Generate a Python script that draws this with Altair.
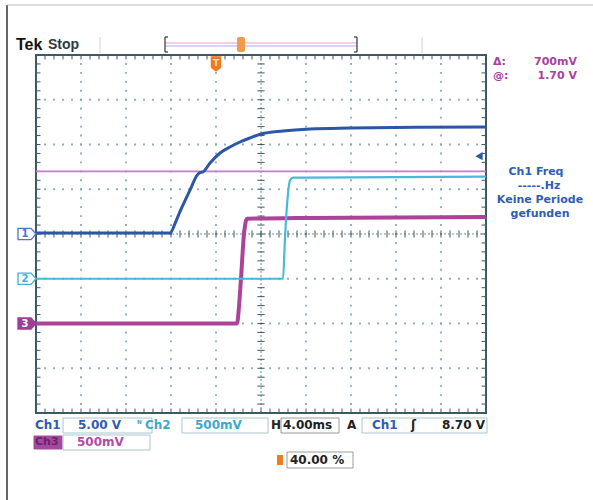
import altair as alt
import numpy as np
import pandas as pd

# ---------------- data (time in ms relative to trigger, volts) ----------------
ch1_t = [-16, -4.1, -3.6, -3.2, -2.31, -1.69, -1.42, -1.16, -0.53, 0.36, 1.24, 2.13, 3.02, 4.0, 5.96, 8.36, 11.9, 18, 24]
ch1_v = [0.1, 0.1, 1.3, 2.5, 4.9, 6.55, 6.85, 6.93, 7.93, 9.05, 9.72, 10.28, 10.73, 11.17, 11.51, 11.73, 11.84, 11.93, 11.96]
ch2_t = [-16, 5.96, 6.13, 6.4, 6.58, 6.84, 8, 24]
ch2_v = [0.0, 0.0, 0.45, 0.95, 1.10, 1.13, 1.13, 1.14]
ch3_t = [-16, 1.87, 2.05, 2.22, 2.49, 2.76, 8, 24]
ch3_v = [0.0, 0.0, 0.2, 0.5, 1.0, 1.17, 1.18, 1.19]

ch_scale = {"Ch1": 5.0, "Ch2": 0.5, "Ch3": 0.5}      # volts per division
ch_offset = {"Ch1": 0.0, "Ch2": -1.0, "Ch3": -2.0}   # ground position, divisions
cursor_v = [1.70]                                    # Ch3 cursor level (V)
trig_level = 8.70                                    # Ch1 trigger level (V)
t_per_div = 4.0
t_start = -16.0
n_xdiv, n_ydiv = 10, 8

W, H = 593, 500
L, R, T, B = 36, 486, 55, 413

xs = alt.Scale(domain=[t_start, t_start + n_xdiv * t_per_div], range=[L, R])
ys = alt.Scale(domain=[-n_ydiv / 2, n_ydiv / 2], range=[B, T])

def X(f="t"):
    return alt.X(f"{f}:Q", scale=xs, axis=None)

def Y(f="y"):
    return alt.Y(f"{f}:Q", scale=ys, axis=None)

FONT = "DejaVu Sans"
C1, C2, C3 = "#2b57a6", "#46bad8", "#ad4399"
GRID = "#86a9b7"
BORDER = "#3e5965"
BOX = "#aac4d0"
ORANGE = "#f07a1e"

layers = []

# ---------------- graticule ----------------
mx = [t_start + t_per_div * k for k in range(1, n_xdiv) if k != 5]
my = [k for k in range(-3, 4) if k != 0]
pts = []
for x in mx:
    for j in np.arange(-4, 4.001, 0.2):
        pts.append((x, j))
for y in my:
    for i in np.arange(t_start, t_start + 40.001, t_per_div / 5):
        pts.append((i, y))
gdf = pd.DataFrame(pts, columns=["t", "y"])
layers.append(alt.Chart(gdf).mark_square(size=3.5, color=GRID, opacity=0.95).encode(x=X(), y=Y()))

tc = t_start + 5 * t_per_div
# center lines
layers.append(alt.Chart(pd.DataFrame({"t": [tc]})).mark_rule(color="#6d8c98", strokeWidth=1, strokeDash=[2, 2])
              .encode(x=X(), y=alt.value(T), y2=alt.value(B)))
layers.append(alt.Chart(pd.DataFrame({"y": [0.0]})).mark_rule(color="#6d8c98", strokeWidth=1, strokeDash=[2, 2])
              .encode(y=Y(), x=alt.value(L), x2=alt.value(R)))

# minor ticks on center lines and border
minor_t = [t_start + i * t_per_div / 5 for i in range(1, 50)]
minor_y = [round(-4 + j * 0.2, 3) for j in range(1, 40)]
tk = []
for t in minor_t:
    tk.append((t, t, -0.08, 0.08))
    tk.append((t, t, 4.0, 3.9))
    tk.append((t, t, -4.0, -3.9))
for y in minor_y:
    tk.append((tc - 0.32, tc + 0.32, y, y))
    tk.append((t_start, t_start + 0.4, y, y))
    tk.append((t_start + 40 - 0.4, t_start + 40, y, y))
tkdf = pd.DataFrame(tk, columns=["t", "t2", "y", "y2"])
layers.append(alt.Chart(tkdf).mark_rule(color=BORDER, strokeWidth=1)
              .encode(x=X(), x2="t2:Q", y=Y(), y2="y2:Q"))

# border
layers.append(alt.Chart(pd.DataFrame({"a": [0]})).mark_rect(fill=None, stroke=BORDER, strokeWidth=2)
              .encode(x=alt.value(L), x2=alt.value(R), y=alt.value(T), y2=alt.value(B)))

# ---------------- cursors ----------------
cdf = pd.DataFrame({"v": cursor_v})
layers.append(alt.Chart(cdf).transform_calculate(y=f"datum.v/{ch_scale['Ch3']} + ({ch_offset['Ch3']})")
              .mark_rule(color="#c47ccc", strokeWidth=1.6)
              .encode(y=Y(), x=alt.value(L), x2=alt.value(R)))

# ---------------- traces ----------------
def trace(name, tt, vv, color, w):
    df = pd.DataFrame({"t": tt, "v": vv})
    return (alt.Chart(df)
            .transform_calculate(y=f"datum.v/{ch_scale[name]} + ({ch_offset[name]})")
            .mark_line(color=color, strokeWidth=w, interpolate="monotone")
            .encode(x=X(), y=Y()))

layers.append(trace("Ch3", ch3_t, ch3_v, C3, 4))
layers.append(trace("Ch2", ch2_t, ch2_v, C2, 2.2))
layers.append(trace("Ch1", ch1_t, ch1_v, C1, 3))

# ---------------- channel ground markers ----------------
mk_shape = "M-1,-0.62 L0.45,-0.62 L1,0 L0.45,0.62 L-1,0.62 Z"
def marker(name, color, filled):
    df = pd.DataFrame({"y": [ch_offset[name]], "s": [name[-1]]})
    p = alt.Chart(df).mark_point(shape=mk_shape, size=324, filled=True,
                                 fill=color if filled else "white", stroke=color, strokeWidth=1.3, opacity=1
                                 ).encode(x=alt.value(27), y=Y())
    tx = alt.Chart(df).mark_text(font=FONT, fontSize=10, fontWeight="bold",
                                 color="white" if filled else color, baseline="middle", align="center"
                                 ).encode(x=alt.value(25), y=Y(), text="s:N")
    return [p, tx]

layers += marker("Ch1", "#4d79c4", False)
layers += marker("Ch2", "#3fb3cf", False)
layers += marker("Ch3", "#a03d96", True)

# trigger level arrow
layers.append(alt.Chart(pd.DataFrame({"v": [trig_level]}))
              .transform_calculate(y=f"datum.v/{ch_scale['Ch1']}")
              .mark_point(shape="triangle-left", size=70, filled=True, color=C1, opacity=1)
              .encode(x=alt.value(479), y=Y()))

# trigger position marker
tshape = "M-1,-1.5 L1,-1.5 L1,0.7 L0,1.5 L-1,0.7 Z"
layers.append(alt.Chart(pd.DataFrame({"t": [0.0]}))
              .mark_point(shape=tshape, size=110, filled=True, color=ORANGE, opacity=1)
              .encode(x=X(), y=alt.value(64)))
layers.append(alt.Chart(pd.DataFrame({"t": [0.0], "s": ["T"]}))
              .mark_text(font=FONT, fontSize=9, fontWeight="bold", color="#fde0c0", baseline="middle")
              .encode(x=X(), y=alt.value(63), text="s:N"))

# ---------------- decorations / text ----------------
def rect(x1, x2, y1, y2, fill=None, stroke=BOX, sw=1):
    kw = dict(stroke=stroke, strokeWidth=sw)
    if fill is None:
        kw["fillOpacity"] = 0
        kw["fill"] = "white"
    else:
        kw["fill"] = fill
    return alt.Chart(pd.DataFrame({"a": [0]})).mark_rect(**kw).encode(
        x=alt.value(x1), x2=alt.value(x2), y=alt.value(y1), y2=alt.value(y2))

def line(x1, x2, y1, y2, color, sw=1):
    return alt.Chart(pd.DataFrame({"a": [0]})).mark_rule(color=color, strokeWidth=sw).encode(
        x=alt.value(x1), x2=alt.value(x2), y=alt.value(y1), y2=alt.value(y2))

def txt(s, x, y, color, size=12, weight="bold", align="left", font=FONT):
    return alt.Chart(pd.DataFrame({"s": [s]})).mark_text(
        align=align, baseline="middle", fontSize=size, fontWeight=weight, color=color, font=font
    ).encode(x=alt.value(x), y=alt.value(y), text="s:N")

# outer frame
layers.append(line(7, 7, 5, 500, "#333333", 1.5))
layers.append(line(7, 593, 5, 5, "#bbbbbb", 1))

# top status
layers.append(txt("Tek", 16, 45, "#111111", 16, "bold", font="Liberation Sans"))
layers.append(txt("Stop", 48, 45, "#2a3a40", 14, "bold", font="Liberation Sans"))
layers.append(line(100, 100, 37, 53, "#c5d5dc", 1))
layers.append(line(422, 422, 37, 53, "#c5d5dc", 1))
layers.append(line(165, 357, 43, 43, "#eaa0c4", 1.2))
layers.append(line(165, 357, 46, 46, "#a6aee6", 1.2))
layers.append(line(165, 165, 37, 52, "#333333", 1.2))
layers.append(line(165, 168, 37, 37, "#333333", 1.2))
layers.append(line(165, 168, 52, 52, "#333333", 1.2))
layers.append(line(357, 357, 37, 52, "#333333", 1.2))
layers.append(line(354, 357, 37, 37, "#333333", 1.2))
layers.append(line(354, 357, 52, 52, "#333333", 1.2))
layers.append(alt.Chart(pd.DataFrame({"a": [0]})).mark_rect(fill="#f39a4a", cornerRadius=2).encode(
    x=alt.value(237), x2=alt.value(245), y=alt.value(37), y2=alt.value(52)))

# right readouts
PUR = "#a9419f"
layers.append(txt("Δ:", 493, 62, PUR, 11))
layers.append(txt("700mV", 577, 62, PUR, 11, align="right"))
layers.append(txt("@:", 493, 76, PUR, 11))
layers.append(txt("1.70 V", 577, 76, PUR, 11, align="right"))

BL = "#2f5cb6"
layers.append(txt("Ch1 Freq", 536, 172, BL, 11, align="center"))
layers.append(txt("-----.Hz", 539, 186, BL, 11, align="center"))
layers.append(txt("Keine Periode", 540, 200, BL, 11, align="center"))
layers.append(txt("gefunden", 540, 214, BL, 11, align="center"))

# bottom readouts row 1
yb1 = 425
CY = "#3aa9cc"
layers.append(txt("Ch1", 35, yb1, BL, 12))
layers.append(rect(63, 152, 418, 433))
layers.append(txt("5.00 V", 78, yb1, BL, 12))
layers.append(txt("ᴺ", 137, yb1 - 1, CY, 9))
layers.append(txt("Ch2", 145, yb1, CY, 12))
layers.append(rect(182, 268, 418, 433))
layers.append(txt("500mV", 195, yb1, CY, 12))
layers.append(txt("H", 271, yb1, "#222222", 12))
layers.append(rect(281, 339, 418, 433, stroke="#9a9a9a"))
layers.append(txt("4.00ms", 283, yb1, "#222222", 12))
layers.append(txt("A", 347, yb1, "#222222", 12))
layers.append(rect(362, 487, 418, 433))
layers.append(txt("Ch1", 372, yb1, BL, 12))
layers.append(txt("ʃ", 411, yb1, "#222222", 12))
layers.append(txt("8.70 V", 485, yb1, "#222222", 12, align="right"))

# row 2
yb2 = 442
layers.append(rect(34, 62, 436, 449, fill="#a24a9e", stroke="#a24a9e"))
layers.append(txt("Ch3", 35, yb2, "#6e2068", 11))
layers.append(rect(63, 150, 435, 450))
layers.append(txt("500mV", 77, yb2, "#b24ca6", 12))

# row 3
yb3 = 460
layers.append(alt.Chart(pd.DataFrame({"a": [0]})).mark_rect(fill=ORANGE, cornerRadius=1).encode(
    x=alt.value(277), x2=alt.value(283), y=alt.value(455), y2=alt.value(465)))
layers.append(rect(287, 353, 452, 468, stroke="#9a9a9a"))
layers.append(txt("40.00 %", 290, yb3, "#222222", 12))

chart = alt.layer(*layers).properties(
    width=W, height=H, padding=0, autosize=alt.AutoSizeParams(type="none"),
    background="white",
).configure_view(stroke=None)

chart.save("out.html", embed_options={"renderer": "svg", "actions": False})
